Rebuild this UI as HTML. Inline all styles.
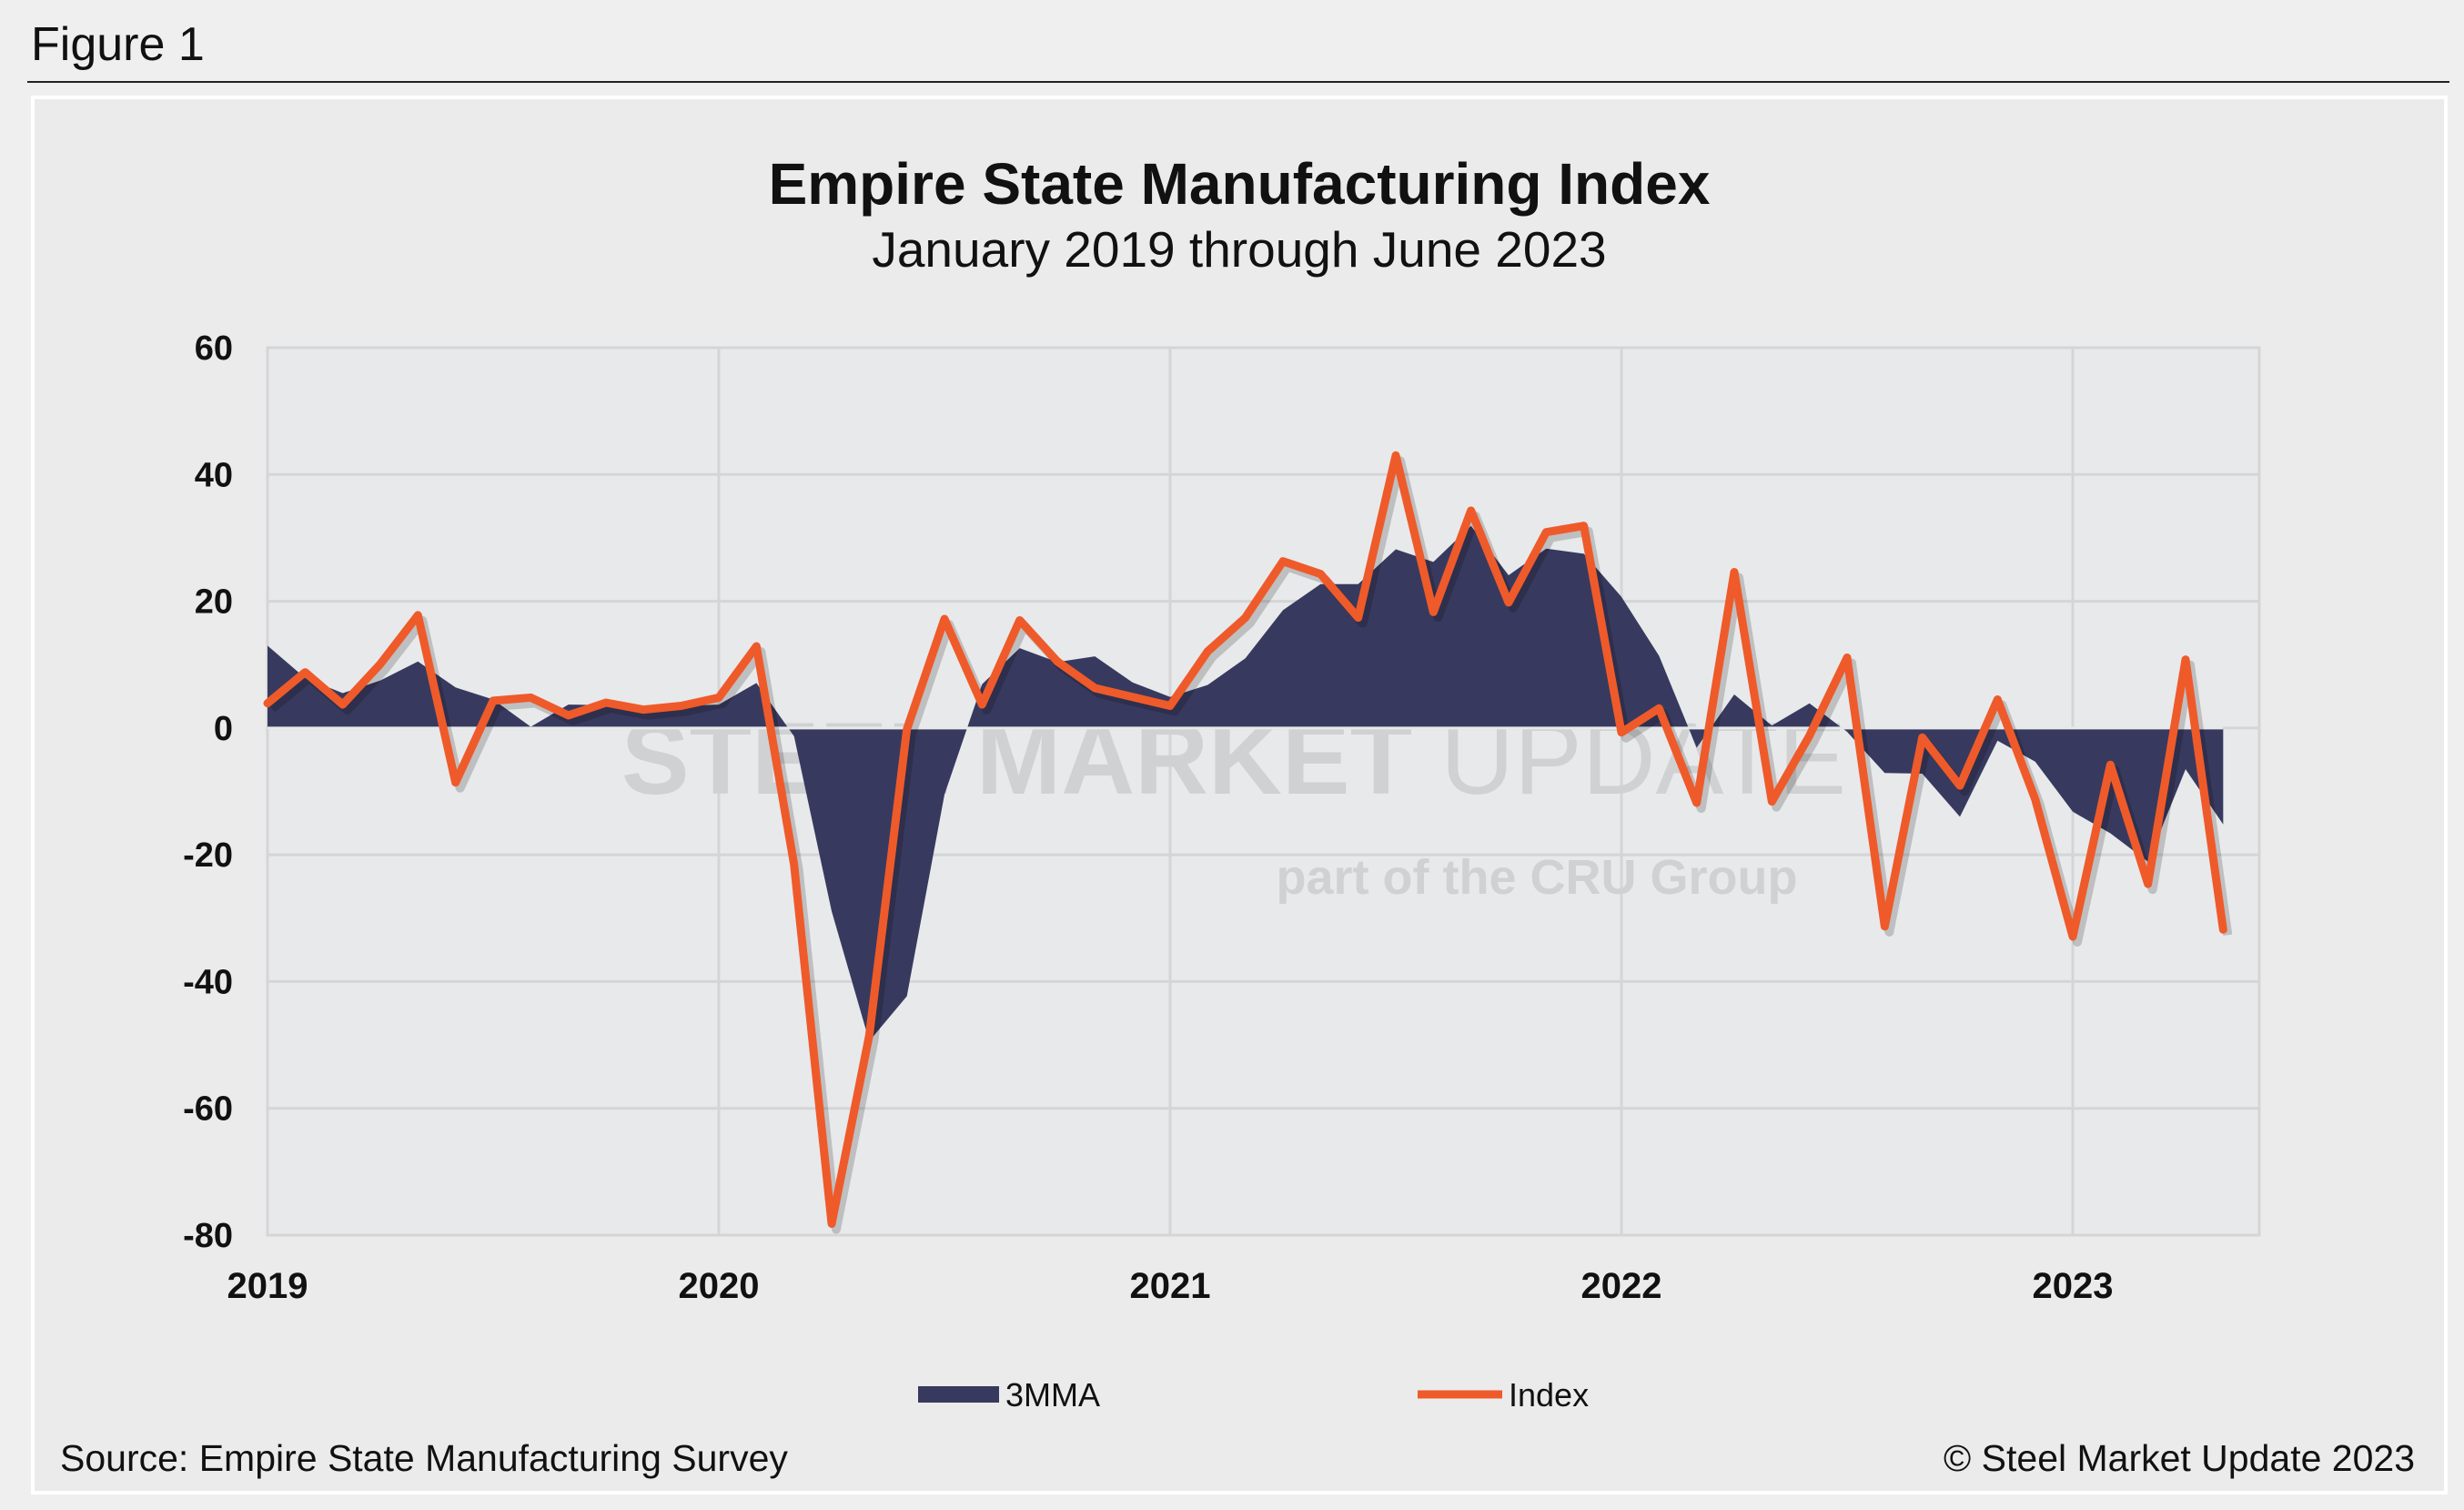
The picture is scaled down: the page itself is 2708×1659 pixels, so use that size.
<!DOCTYPE html>
<html><head><meta charset="utf-8"><style>
body{margin:0;background:#efefef;font-family:"Liberation Sans",Arial,sans-serif;}
#wrap{position:relative;width:2708px;height:1659px;overflow:hidden;background:#efefef;}
</style></head><body>
<div id="wrap">
<svg id="svg" width="2708" height="1659" xmlns="http://www.w3.org/2000/svg">
<text x="34" y="66" font-size="52" fill="#111">Figure 1</text>
<line x1="30" y1="90" x2="2692" y2="90" stroke="#222" stroke-width="2"/>
<rect x="36" y="107" width="2652" height="1533" fill="#ebebeb" stroke="#fff" stroke-width="4"/>
<text x="1362" y="224" font-size="64" font-weight="bold" text-anchor="middle" fill="#111">Empire State Manufacturing Index</text>
<text x="1362" y="293" font-size="55" text-anchor="middle" fill="#111">January 2019 through June 2023</text>
<rect x="294" y="382" width="2189" height="975" fill="#e8e9eb" stroke="#d4d5d7" stroke-width="3"/>
<g id="grid"></g>
<g fill="#d0d1d3">
<text x="1356" y="872" font-size="112" font-weight="bold" text-anchor="middle">STEEL MARKET <tspan font-weight="normal">UPDATE</tspan></text>
<text x="1689" y="982" font-size="54" font-weight="bold" text-anchor="middle">part of the CRU Group</text>
</g>
<g id="marks"></g>
<g id="labels"></g>
<rect x="1009" y="1523" width="89" height="18" fill="#373a5e"/>
<text x="1105" y="1545" font-size="36" fill="#111">3MMA</text>
<line x1="1558" y1="1532" x2="1651" y2="1532" stroke="#ef5a2a" stroke-width="9"/>
<text x="1658" y="1545" font-size="36" fill="#111">Index</text>
<text x="66" y="1616" font-size="41" fill="#111">Source: Empire State Manufacturing Survey</text>
<text x="2654" y="1616" font-size="41" fill="#111" text-anchor="end">© Steel Market Update 2023</text>
</svg>
</div>
<script>
const indexValues=[3.9,8.8,3.7,10.1,17.8,-8.6,4.3,4.8,2.0,4.0,2.9,3.5,
4.8,12.9,-21.5,-78.2,-48.5,-0.2,17.2,3.7,17.0,10.5,6.3,4.9,
3.5,12.1,17.4,26.3,24.3,17.4,43.0,18.3,34.3,19.8,30.9,31.9,
-0.7,3.1,-11.8,24.6,-11.6,-1.2,11.1,-31.3,-1.5,-9.1,4.5,-11.2,
-32.9,-5.8,-24.6,10.8,-31.8];
const mmaValues=[13.0,7.9,5.5,7.5,10.5,6.4,4.5,0.2,3.7,3.6,3.0,3.5,
3.7,7.1,-1.3,-28.9,-49.4,-42.3,-10.5,6.9,12.6,10.4,11.3,7.2,
4.9,6.8,11.0,18.6,22.7,22.7,28.2,26.2,31.9,24.1,28.3,27.5,
20.7,11.4,-3.1,5.3,0.4,3.9,-0.6,-7.1,-7.2,-14.0,-2.0,-5.3,
-13.2,-16.6,-21.1,-6.5,-15.2];
const yTicks=[60,40,20,0,-20,-40,-60,-80];
const xYears=["2019","2020","2021","2022","2023"];
const NS="http://www.w3.org/2000/svg";
const X0=294,X1=2483,Y0=382,Y1=1357;
const xs=i=>X0+i*(496/12);
const ys=v=>Y0+(60-v)/140*(Y1-Y0);
function mk(tag,attrs,parent){const e=document.createElementNS(NS,tag);for(const k in attrs)e.setAttribute(k,attrs[k]);parent.appendChild(e);return e;}
const grid=document.getElementById('grid'),marks=document.getElementById('marks'),labels=document.getElementById('labels');
yTicks.forEach(t=>{
  const l=mk('line',{x1:X0,x2:X1,y1:ys(t),y2:ys(t),stroke:'#d4d5d7','stroke-width':3},grid);
  
  
  const tx=mk('text',{x:256,y:ys(t)+13,'font-size':38,'font-weight':'bold','text-anchor':'end',fill:'#111'},labels);
  tx.textContent=t;
  
  
});
xYears.forEach((y,k)=>{
  const x=xs(k*12);
  const l=mk('line',{x1:x,x2:x,y1:Y0,y2:Y1,stroke:'#d4d5d7','stroke-width':3},grid);
  
  
  const tx=mk('text',{x:x,y:1426,'font-size':40,'font-weight':'bold','text-anchor':'middle',fill:'#111'},labels);
  tx.textContent=y;
  
  
});
let d='M'+xs(0)+','+ys(0);
mmaValues.forEach((v,i)=>{d+=' L'+xs(i)+','+ys(v);});
d+=' L'+xs(mmaValues.length-1)+','+ys(0)+' Z';
const area=mk('path',{d:d,fill:'#373a5e'},marks);


const zl=mk('line',{x1:X0,x2:xs(mmaValues.length-1),y1:ys(0),y2:ys(0),stroke:'#e8e9eb','stroke-width':3},marks);


const pts=indexValues.map((v,i)=>xs(i)+','+ys(v)).join(' ');
const sh=mk('polyline',{points:pts,fill:'none',stroke:'rgba(0,0,0,0.18)','stroke-width':10,'stroke-linejoin':'round',transform:'translate(5,6)'},marks);


const ln=mk('polyline',{points:pts,fill:'none',stroke:'#ef5a2a','stroke-width':9,'stroke-linejoin':'round','stroke-linecap':'round'},marks);


</script>
</body></html>
